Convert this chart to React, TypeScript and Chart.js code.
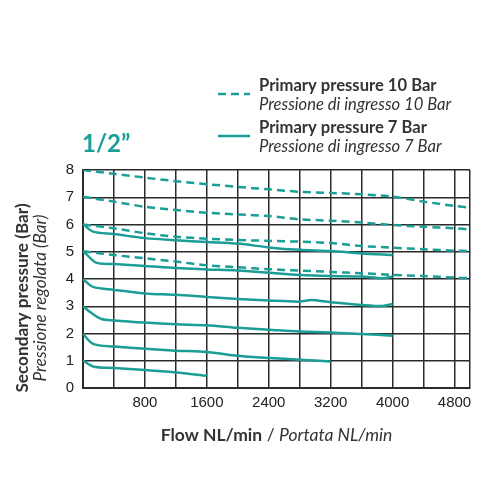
import Chart from "chart.js/auto";
import { useEffect, useRef } from "react";

// flow (NL/min) for the dashed 10 Bar curves
const flow10 = [0, 400, 800, 1200, 1600, 2000, 2400, 2800, 3200, 3600, 4000, 4400, 4800, 5000];
const p10at8 = [8.0, 7.86, 7.72, 7.59, 7.48, 7.38, 7.29, 7.2, 7.16, 7.11, 7.02, 6.84, 6.68, 6.62];
const p10at7 = [7.02, 6.84, 6.65, 6.53, 6.43, 6.37, 6.31, 6.19, 6.14, 6.07, 5.98, 5.92, 5.86, 5.82];
const p10at6 = [6.0, 5.86, 5.68, 5.55, 5.48, 5.43, 5.4, 5.37, 5.32, 5.21, 5.15, 5.09, 5.04, 5.03];
const p10at5 = [5.02, 4.88, 4.76, 4.64, 4.5, 4.43, 4.36, 4.31, 4.26, 4.21, 4.15, 4.11, 4.05, 4.03];

// solid 7 Bar curves
const flow7at6 = [0, 130, 400, 800, 1200, 1600, 2000, 2400, 2800, 3200, 3600, 4000];
const p7at6 = [6.02, 5.74, 5.65, 5.5, 5.42, 5.36, 5.3, 5.16, 5.07, 5.03, 4.94, 4.88];
const flow7at5 = [0, 170, 400, 800, 1200, 1600, 2000, 2400, 2800, 3200, 3600, 3870, 4000];
const p7at5 = [5.04, 4.6, 4.55, 4.48, 4.4, 4.35, 4.31, 4.23, 4.15, 4.11, 4.09, 4.03, 4.09];
const flow7at4 = [0, 130, 400, 800, 1200, 1600, 2000, 2400, 2800, 2950, 3200, 3600, 3870, 4000];
const p7at4 = [3.99, 3.71, 3.6, 3.47, 3.42, 3.34, 3.27, 3.21, 3.17, 3.23, 3.15, 3.05, 3.01, 3.08];
const flow7at3 = [0, 110, 240, 400, 800, 1200, 1600, 2000, 2400, 2800, 3200, 3600, 4000];
const p7at3 = [3.0, 2.75, 2.53, 2.48, 2.4, 2.34, 2.3, 2.21, 2.14, 2.07, 2.04, 1.98, 1.92];
const flow7at2 = [0, 130, 400, 800, 1200, 1600, 2000, 2400, 2800, 3200];
const p7at2 = [1.99, 1.62, 1.52, 1.44, 1.37, 1.32, 1.18, 1.1, 1.04, 0.97];
const flow7at1 = [0, 130, 400, 800, 1200, 1600];
const p7at1 = [1.01, 0.79, 0.73, 0.66, 0.57, 0.45];

// grid lines every 400 NL/min, labels every 800
const xGrid = [0, 400, 800, 1200, 1600, 2000, 2400, 2800, 3200, 3600, 4000, 4400, 4800, 5000];
const xLabels = [800, 1600, 2400, 3200, 4000, 4800];

const curves10 = [p10at8, p10at7, p10at6, p10at5];
const curves7: [number[], number[]][] = [
  [flow7at6, p7at6],
  [flow7at5, p7at5],
  [flow7at4, p7at4],
  [flow7at3, p7at3],
  [flow7at2, p7at2],
  [flow7at1, p7at1],
];

const sizeLabel = "1/2\u201d";
const legendLines = [
  ["Primary pressure 10 Bar", "Pressione di ingresso 10 Bar"],
  ["Primary pressure 7 Bar", "Pressione di ingresso 7 Bar"],
];

const TEAL = "#1a9e96";
const TEXT = "#333333";
const FONT = "Lato";
const TICK_FONT = "'Liberation Sans', Arial, sans-serif";

const pts = (xs: number[], ys: number[]) => xs.map((x, i) => ({ x, y: ys[i] }));

const textPlugin = {
  id: "textPlugin",
  afterDraw(chart: Chart) {
    const ctx = chart.ctx;
    const area = chart.chartArea;
    ctx.save();
    ctx.textBaseline = "alphabetic";

    // size label
    ctx.fillStyle = TEAL;
    ctx.font = `bold 24px ${FONT}`;
    ctx.textAlign = "left";
    ctx.fillText(sizeLabel, 82, 152);

    // legend
    const swatchY = [94, 136];
    const textY = [
      [91, 110],
      [133, 152],
    ];
    legendLines.forEach((lines, i) => {
      ctx.strokeStyle = TEAL;
      ctx.lineWidth = 2.5;
      ctx.setLineDash(i === 0 ? [8, 5] : []);
      ctx.beginPath();
      ctx.moveTo(218, swatchY[i]);
      ctx.lineTo(250, swatchY[i]);
      ctx.stroke();
      ctx.setLineDash([]);
      ctx.fillStyle = TEXT;
      ctx.font = `bold 16.6px ${FONT}`;
      ctx.fillText(lines[0], 259, textY[i][0]);
      ctx.font = `italic 16.6px ${FONT}`;
      ctx.fillText(lines[1], 259, textY[i][1]);
    });

    // x axis title
    ctx.fillStyle = TEXT;
    const xa = `bold 17.5px ${FONT}`;
    const xn = `17.5px ${FONT}`;
    const xb = `italic 17.5px ${FONT}`;
    const partA = "Flow NL/min";
    const partB = " / ";
    const partC = "Portata NL/min";
    ctx.font = xa;
    const wa = ctx.measureText(partA).width;
    ctx.font = xn;
    const wb = ctx.measureText(partB).width;
    ctx.font = xb;
    const wc = ctx.measureText(partC).width;
    let x0 = (area.left + area.right) / 2 - (wa + wb + wc) / 2;
    ctx.font = xa;
    ctx.fillText(partA, x0, 441);
    x0 += wa;
    ctx.font = xn;
    ctx.fillText(partB, x0, 441);
    x0 += wb;
    ctx.font = xb;
    ctx.fillText(partC, x0, 441);

    // y axis title
    ctx.translate(0, 298);
    ctx.rotate(-Math.PI / 2);
    ctx.textAlign = "center";
    ctx.font = `bold 17.2px ${FONT}`;
    ctx.fillText("Secondary pressure (Bar)", 0, 28);
    ctx.font = `italic 17.2px ${FONT}`;
    ctx.fillText("Pressione regolata (Bar)", 0, 46);
    ctx.restore();
  },
};

export default function App() {
  const canvasRef = useRef<HTMLCanvasElement | null>(null);

  useEffect(() => {
    if (!canvasRef.current) {
      return;
    }

    const datasets: any[] = [];
    curves10.forEach((ys) => {
      datasets.push({
        label: "Primary pressure 10 Bar",
        data: pts(flow10, ys),
        borderColor: TEAL,
        borderWidth: 2.5,
        borderDash: [8, 5],
        pointRadius: 0,
        tension: 0.3,
      });
    });
    curves7.forEach(([xs, ys]) => {
      datasets.push({
        label: "Primary pressure 7 Bar",
        data: pts(xs, ys),
        borderColor: TEAL,
        borderWidth: 2.5,
        pointRadius: 0,
        tension: 0.3,
      });
    });

    const chart = new Chart(canvasRef.current, {
      type: "line",
      data: { datasets },
      options: {
        animation: false,
        responsive: false,
        devicePixelRatio: 1,
        layout: { padding: { top: 170, right: 30, left: 0, bottom: 0 } },
        plugins: {
          legend: { display: false },
          tooltip: { enabled: false },
        },
        scales: {
          x: {
            type: "linear",
            min: 0,
            max: 5000,
            grid: { color: "#2b2b2b", lineWidth: 1.5, drawTicks: false },
            border: { color: "#2b2b2b", width: 2 },
            afterBuildTicks: (scale: any) => {
              scale.ticks = xGrid.map((value) => ({ value }));
            },
            ticks: {
              autoSkip: false,
              maxRotation: 0,
              padding: 6,
              color: "#222",
              font: { family: TICK_FONT, size: 15 },
              callback: (v: any) => (xLabels.includes(Number(v)) ? String(v) : ""),
            },
            afterFit: (scale: any) => {
              scale.height = 112;
              scale.paddingLeft = 0;
              scale.paddingRight = 0;
            },
          },
          y: {
            min: 0,
            max: 8,
            grid: { color: "#2b2b2b", lineWidth: 1.5, drawTicks: false },
            border: { color: "#2b2b2b", width: 2 },
            ticks: {
              stepSize: 1,
              padding: 9,
              color: "#222",
              font: { family: TICK_FONT, size: 15 },
            },
            afterFit: (scale: any) => {
              scale.width = 83;
              scale.paddingTop = 0;
              scale.paddingBottom = 0;
            },
          },
        },
      },
      plugins: [textPlugin],
    });

    return () => {
      chart.destroy();
    };
  }, []);

  return (
    <div style={{ position: "fixed", left: 0, top: 0, width: 500, height: 500, background: "#fff" }}>
      <canvas ref={canvasRef} width={500} height={500}></canvas>
    </div>
  );
}
